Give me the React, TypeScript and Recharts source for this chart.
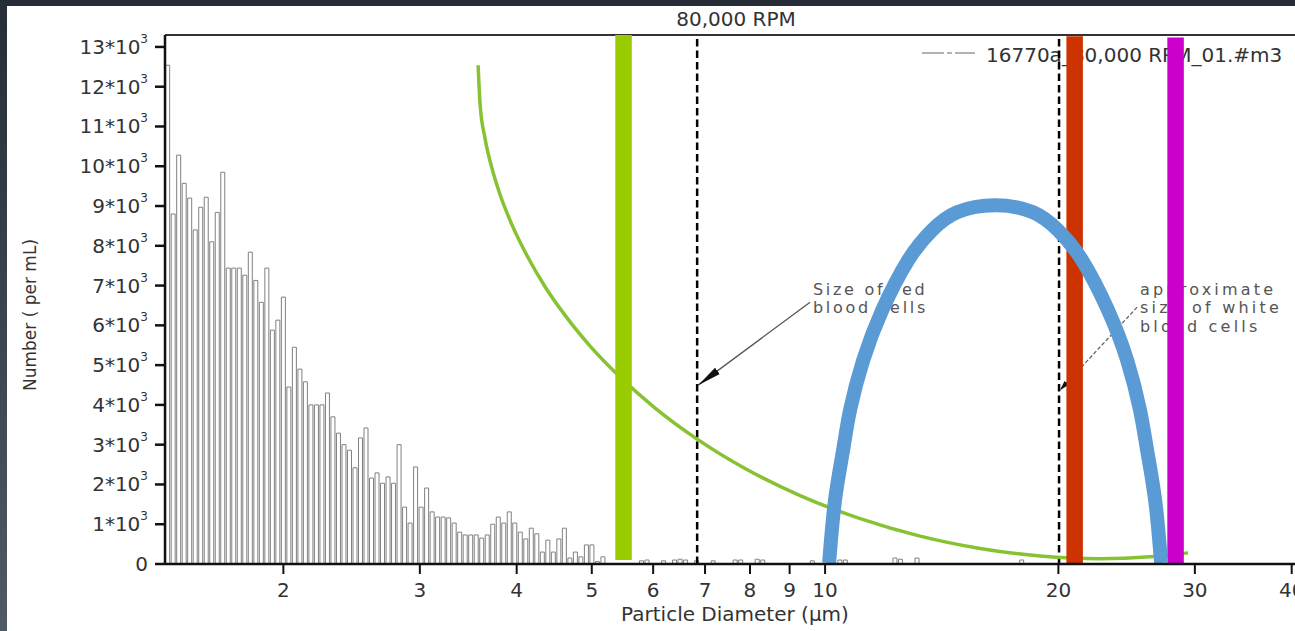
import React from 'react';
import { ComposedChart, Bar, Line, XAxis, YAxis, ReferenceLine } from 'recharts';

// Histogram counts per log-spaced channel (per mL)
const HIST_COUNTS = [
  12540, 8800, 10280, 9570, 9200, 8400, 8970, 9220, 8100, 8840,
  9850, 7440, 7440, 7440, 7260, 7840, 7130, 6580, 7440, 5880,
  6130, 6710, 4450, 5450, 4900, 4580, 4000, 4000, 4000, 4300,
  3700, 3290, 3000, 2860, 2420, 3170, 3420, 2160, 2290, 2030,
  2190, 2030, 3000, 1430, 1030, 2440, 1430, 1910, 1310, 1180,
  1180, 1160, 1030, 800, 730, 730, 730, 650, 730, 1000,
  1180, 1030, 1310, 1030, 800, 630, 900, 760, 300, 600,
  300, 630, 900, 150, 300, 180, 480, 480, 60, 180,
  0, 0, 0, 0, 0, 0, 80, 100, 0, 0,
  80, 0, 100, 120, 100, 0, 80, 0, 0, 80,
  0, 0, 0, 100, 100, 0, 0, 120, 100, 0,
  0, 0, 0, 0, 0, 0, 0, 80, 0, 0,
  0, 0, 100, 100, 0, 0, 0, 0, 0, 0,
  0, 0, 150, 120, 0, 0, 150, 0, 0, 0,
  0, 0, 0, 0, 0, 0, 0, 0, 0, 0,
  0, 0, 0, 0, 0, 100, 0, 0, 0, 0,
  0, 0, 0, 0, 0, 0, 0, 0, 0, 0,
  0, 0, 0, 0, 0, 0, 0, 0, 0, 0,
  0, 0, 0, 0, 0, 0, 0, 0, 0, 0,
  0, 0, 0, 0, 0, 0, 0, 0, 0, 0,
  0, 0, 0, 0, 0, 0,
];

const X_TICKS = [2, 3, 4, 5, 6, 7, 8, 9, 10, 20, 30, 40];
const Y_TICKS = [0, 1000, 2000, 3000, 4000, 5000, 6000, 7000, 8000, 9000, 10000, 11000, 12000, 13000];
const X_DOMAIN = [1.407, 41];
const Y_MAX = 13300;

// Green decay curve (diameter µm, count)
const GREEN_CURVE_X = [3.567, 3.588, 3.641, 3.718, 3.807, 3.946, 4.126, 4.352, 4.619, 4.975, 5.439, 6.035, 6.837, 7.885, 9.284, 11.1, 13.26, 15.85, 18.94, 22.64, 26.26, 29.4];
const GREEN_CURVE_Y = [12540, 11560, 10700, 9940, 9290, 8520, 7750, 6970, 6250, 5480, 4700, 3920, 3140, 2400, 1720, 1140, 700, 390, 200, 130, 180, 280];

// Blue arch (diameter µm, count)
const BLUE_ARC_X = [10.12, 10.3, 10.55, 10.77, 11.2, 11.85, 12.8, 13.74, 14.8, 16.57, 18.55, 19.98, 21.46, 23.18, 24.53, 25.49, 26.03, 26.66, 27.14];
const BLUE_ARC_Y = [25, 1608, 2864, 3869, 5126, 6382, 7638, 8392, 8844, 9020, 8844, 8392, 7638, 6382, 5126, 3869, 2864, 1608, 25];

// Vertical markers (diameter µm) and their count extents
const RBC_DASH_X = 6.838;
const WBC_DASH_X = 20.04;
const GREEN_BAR = { x: 5.495, top: 13300, bottom: 100 };
const RED_BAR = { x: 20.99, top: 13270, bottom: 25 };
const MAGENTA_BAR = { x: 28.33, top: 13240, bottom: 25 };

// Annotation arrows (from label to dashed line)
const RBC_ARROW_X = [9.564, 6.858];
const RBC_ARROW_Y = [6583, 4497];
const WBC_ARROW_X = [25.27, 20.1];
const WBC_ARROW_Y = [6457, 4372];

const FONT = '"DejaVu Sans", Verdana, sans-serif';

const histData = HIST_COUNTS.map((v, i) => ({ i, v }));
const zip = (xs: number[], ys: number[]) => xs.map((x, k) => ({ x, y: ys[k] }));
const greenData = zip(GREEN_CURVE_X, GREEN_CURVE_Y);
const blueData = zip(BLUE_ARC_X, BLUE_ARC_Y);
const vbar = (b: { x: number; top: number; bottom: number }) => [
  { x: b.x, y: b.top },
  { x: b.x, y: b.bottom },
];
const rbcArrow = zip(RBC_ARROW_X, RBC_ARROW_Y);
const wbcArrow = zip(WBC_ARROW_X, WBC_ARROW_Y);

const YTick = (props: any) => {
  const { x, y, payload } = props;
  const v = payload.value;
  if (v === 0) {
    return (
      <text x={x - 5} y={y + 7} textAnchor="end" fontSize={20} fill="#333" fontFamily={FONT}>
        0
      </text>
    );
  }
  return (
    <text x={x - 5} y={y + 7} textAnchor="end" fontSize={20} fill="#333" fontFamily={FONT}>
      {`${v / 1000}*10`}
      <tspan fontSize={12} dy={-11}>3</tspan>
    </text>
  );
};

export default function App() {
  return (
    <div
      style={{
        position: 'fixed',
        left: 0,
        top: 0,
        width: 1295,
        height: 631,
        overflow: 'hidden',
        background: '#ffffff',
      }}
    >
      <svg
        width={1295}
        height={631}
        style={{ position: 'absolute', left: 0, top: 0 }}
        fontFamily={FONT}
      >
        <defs>
          <marker id="ahBig" viewBox="0 0 24 10" refX={24} refY={5} markerWidth={24} markerHeight={10} markerUnits="userSpaceOnUse" orient="auto">
            <path d="M0,1 L24,5 L0,9 z" fill="#111" />
          </marker>
          <marker id="ahSmall" viewBox="0 0 10 8" refX={10} refY={4} markerWidth={10} markerHeight={8} markerUnits="userSpaceOnUse" orient="auto">
            <path d="M0,1 L10,4 L0,7 z" fill="#111" />
          </marker>
        </defs>
        <text x={736} y={26} textAnchor="middle" fontSize={20} fill="#333">80,000 RPM</text>
        <line x1={922} x2={975} y1={53} y2={53} stroke="#9a9a9a" strokeWidth={1.5} strokeDasharray="22 3 5 3" />
        <text x={986} y={62} fontSize={20} fill="#333">16770a_80,000 RPM_01.#m3</text>
        <text x={813} y={295} fontSize={16} letterSpacing={2.7} fill="#555">Size of red</text>
        <text x={813} y={313} fontSize={16} letterSpacing={2.7} fill="#555">blood cells</text>
        <text x={1140} y={295} fontSize={16} letterSpacing={3.2} fill="#555">approximate</text>
        <text x={1140} y={313} fontSize={16} letterSpacing={3.2} fill="#555">size of white</text>
        <text x={1140} y={332} fontSize={16} letterSpacing={3.2} fill="#555">blood cells</text>
        <text x={36} y={315} textAnchor="middle" fontSize={17} fill="#333" transform="rotate(-90 36 315)">Number ( per mL)</text>
        <text x={735} y={621} textAnchor="middle" fontSize={20} fill="#333">Particle Diameter (µm)</text>
      </svg>

      <div style={{ position: 'absolute', left: 0, top: 0 }}>
        <ComposedChart
          width={1310}
          height={631}
          data={histData}
          margin={{ top: 35, right: 10, bottom: 0, left: 0 }}
          barCategoryGap="12%"
        >
          <XAxis
            xAxisId="d"
            dataKey="x"
            type="number"
            scale="log"
            domain={X_DOMAIN}
            allowDataOverflow
            ticks={X_TICKS}
            interval={0}
            height={67}
            tickSize={10}
            tickMargin={9}
            tick={{ fontSize: 20, fill: '#333', fontFamily: FONT }}
            tickLine={{ stroke: '#111', strokeWidth: 2 }}
            axisLine={{ stroke: '#111', strokeWidth: 2.5 }}
          />
          <XAxis xAxisId="bins" dataKey="i" type="category" orientation="top" height={0} hide />
          <YAxis
            type="number"
            domain={[0, Y_MAX]}
            allowDataOverflow
            ticks={Y_TICKS}
            interval={0}
            width={165}
            tickSize={10}
            tick={<YTick />}
            tickLine={{ stroke: '#111', strokeWidth: 2.5 }}
            axisLine={{ stroke: '#111', strokeWidth: 2.5 }}
          />
          <Bar
            xAxisId="bins"
            dataKey="v"
            fill="#ffffff"
            stroke="#808080"
            strokeWidth={1}
            isAnimationActive={false}
          />
          <ReferenceLine xAxisId="d" y={Y_MAX} stroke="#333" strokeWidth={2} />
          <ReferenceLine xAxisId="d" x={RBC_DASH_X} stroke="#000" strokeWidth={2.5} strokeDasharray="7.5 4" />
          <ReferenceLine xAxisId="d" x={WBC_DASH_X} stroke="#000" strokeWidth={2.5} strokeDasharray="7.5 4" />
          <Line xAxisId="d" data={rbcArrow} dataKey="y" type="linear" stroke="#555" strokeWidth={1.3} dot={false} activeDot={false} markerEnd="url(#ahBig)" isAnimationActive={false} />
          <Line xAxisId="d" data={wbcArrow} dataKey="y" type="linear" stroke="#666" strokeWidth={1.3} strokeDasharray="4 2" dot={false} activeDot={false} markerEnd="url(#ahSmall)" isAnimationActive={false} />
          <Line xAxisId="d" data={greenData} dataKey="y" type="monotone" stroke="#86c232" strokeWidth={3.5} dot={false} activeDot={false} isAnimationActive={false} />
          <Line xAxisId="d" data={vbar(GREEN_BAR)} dataKey="y" type="linear" stroke="#99cc00" strokeWidth={16.5} dot={false} activeDot={false} isAnimationActive={false} />
          <Line xAxisId="d" data={vbar(RED_BAR)} dataKey="y" type="linear" stroke="#cc3300" strokeWidth={16.5} dot={false} activeDot={false} isAnimationActive={false} />
          <Line xAxisId="d" data={vbar(MAGENTA_BAR)} dataKey="y" type="linear" stroke="#cc00cc" strokeWidth={16.5} dot={false} activeDot={false} isAnimationActive={false} />
          <Line xAxisId="d" data={blueData} dataKey="y" type="natural" stroke="#5b9bd5" strokeWidth={14} dot={false} activeDot={false} isAnimationActive={false} />
        </ComposedChart>
      </div>

      <div style={{ position: 'absolute', left: 0, top: 0, width: 1295, height: 6, background: '#262d37' }} />
      <div
        style={{
          position: 'absolute',
          left: 0,
          top: 0,
          width: 7,
          height: 631,
          background: 'linear-gradient(#262d37, #4e5a66)',
        }}
      />
    </div>
  );
}
